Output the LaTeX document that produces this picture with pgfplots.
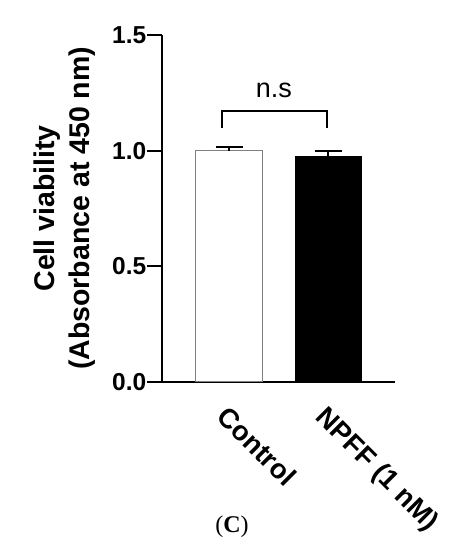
\documentclass[border=0pt]{standalone}
\usepackage{fontspec}
\setmainfont{Liberation Sans}
\newfontfamily\timesfont{Liberation Serif}
\usepackage{pgfplots}
\pgfplotsset{compat=1.18}
\begin{document}
\begin{tikzpicture}
\begin{axis}[
  scale only axis, width=233pt, height=346.7pt,
  xmin=-0.675, xmax=1.672, ymin=0, ymax=1.5,
  axis x line=bottom, axis y line=left,
  axis line style={line width=2pt, -},
  ytick={0,0.5,1,1.5},
  /pgf/number format/assume math mode=true,
  yticklabel style={/pgf/number format/fixed, /pgf/number format/fixed zerofill, /pgf/number format/precision=1,
    font=\fontsize{24.5}{28}\selectfont\bfseries, inner sep=1pt},
  tick align=outside, major tick length=14.5pt,
  y tick style={line width=2pt, black},
  xtick={0,1}, xticklabels={Control, NPFF (1 nM)},
  x tick style={draw=none},
  xticklabel style={rotate=-45, anchor=north west, inner sep=0pt, xshift=6pt, yshift=-5pt, font=\fontsize{27.5}{30}\selectfont\bfseries},
  ylabel={Cell viability\\(Absorbance at 450 nm)},
  every axis y label/.style={at={(axis description cs:-0.42,0.5)}, rotate=90, anchor=center,
    align=center, font=\fontsize{28.5}{35}\selectfont\bfseries},
  bar width=66.3pt, bar shift=0pt,
]
\addplot[ybar, fill=white, draw=gray, line width=1pt,
  error bars/.cd, y dir=plus, y explicit,
  error bar style={line width=2pt, black},
  error mark options={rotate=90, mark size=13.5pt, line width=2pt, black}]
  coordinates {(0,1.0) +- (0,0.014)};
\addplot[ybar, fill=black, draw=black, line width=1pt,
  error bars/.cd, y dir=plus, y explicit,
  error bar style={line width=2pt, black},
  error mark options={rotate=90, mark size=13.5pt, line width=2pt, black}]
  coordinates {(1,0.976) +- (0,0.024)};
\addplot[black, line width=2pt, mark=none] coordinates {(-0.073,1.096) (-0.073,1.171) (0.99,1.171) (0.99,1.096)};
\node[font=\fontsize{27}{32}\selectfont, anchor=base] at (axis cs:0.453,1.23) {n.s};
\end{axis}
\node[font=\timesfont\fontsize{24}{28}\selectfont] at ([xshift=70pt,yshift=-145.3pt]current axis.south west) {(\textbf{C})};
\pgfresetboundingbox
\useasboundingbox ([xshift=-162pt,yshift=-168.3pt]current axis.south west) rectangle ++(456pt,550pt);
\end{tikzpicture}
\end{document}
